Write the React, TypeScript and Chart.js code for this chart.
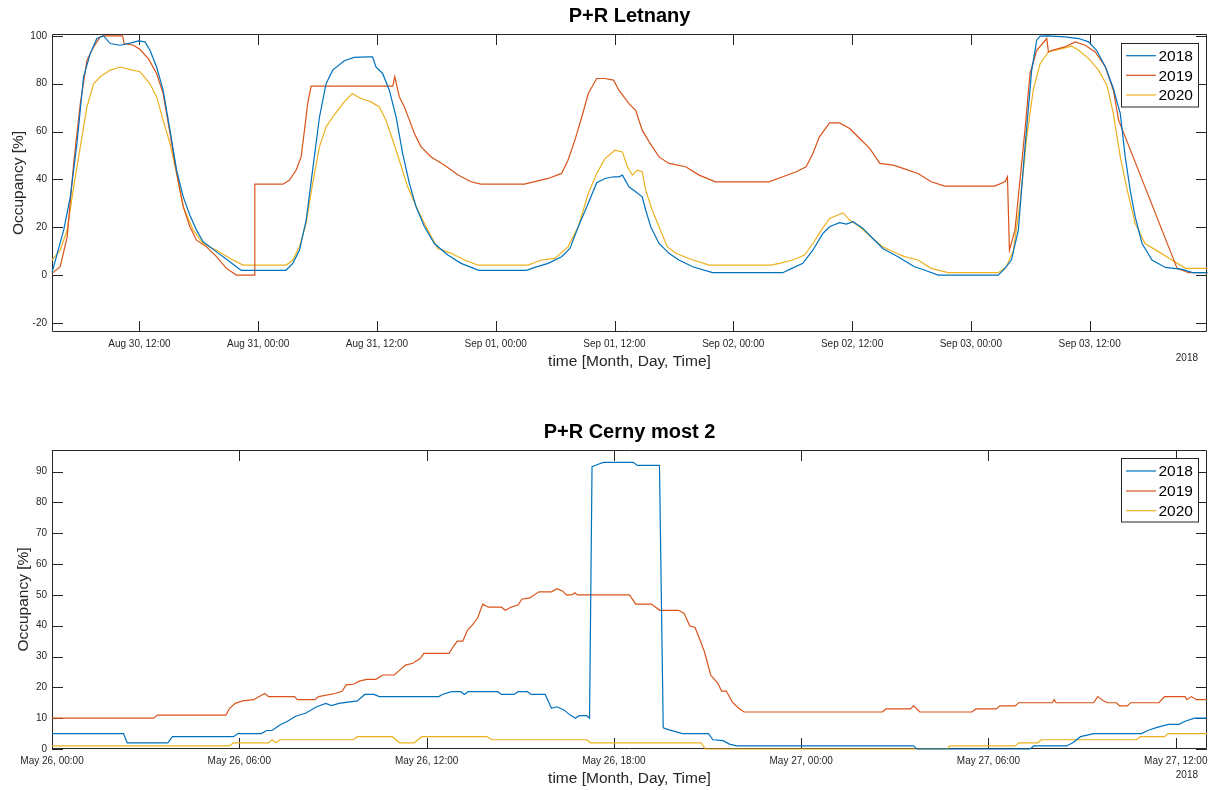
import React, { useEffect, useRef } from "react";
import { Chart, registerables } from "chart.js";

Chart.register(...registerables);

const FONT = '"Liberation Sans", Arial, Helvetica, sans-serif';
const SERIES_NAMES = ["2018", "2019", "2020"];
const SERIES_COLORS = ["#0072BD", "#D95319", "#EDB120"];

// ---------- P+R Letnany (x = hours since Aug 30, 00:00) ----------
const letnanyTickHours = [12, 24, 36, 48, 60, 72, 84, 96, 108];
const letnanyTickLabels = [
  "Aug 30, 12:00", "Aug 31, 00:00", "Aug 31, 12:00", "Sep 01, 00:00", "Sep 01, 12:00",
  "Sep 02, 00:00", "Sep 02, 12:00", "Sep 03, 00:00", "Sep 03, 12:00",
];
const letnanyYTicks = [-20, 0, 20, 40, 60, 80, 100];

const letnanyHours2018 = [
  3.17, 4.35, 5.02, 5.69, 6.36, 7.03, 7.7, 8.38, 9.05, 10.05, 11.06, 11.9, 12.57, 13.07, 13.74, 14.4,
  15.09, 15.76, 16.43, 17.1, 17.77, 18.44, 19.79, 21.13, 22.13, 22.3, 26.8, 27.5, 28.17, 28.85, 29.5,
  30.19, 30.86, 31.53, 32.7, 33.7, 35.05, 35.56, 35.9, 36.57, 37.25, 37.93, 38.6, 39.28, 39.95, 40.8,
  41.8, 43.16, 44.5, 46.03, 46.3, 51.1, 51.95, 53.3, 54.65, 55.5, 56.34, 57.35, 58.2, 59.04, 59.9,
  60.45, 60.8, 61.46, 62.14, 62.8, 63.15, 63.66, 64.5, 65.5, 66.5, 67.9, 69.9, 77, 77.7, 79.03, 80.04,
  81.05, 81.73, 82.74, 83.42, 84.1, 85.1, 86.1, 87.1, 88.5, 89.3, 90.3, 91.3, 92.7, 98.77, 99.45,
  100.1, 100.8, 101.47, 102.15, 102.66, 103, 103.8, 105.5, 106.9, 107.9, 108.7, 109.6, 110.4, 111.1,
  111.6, 112.1, 112.6, 113.3, 114.3, 115.66, 117.35, 118.4, 119.9,
];
const letnany2018 = [
  1, 18.8, 32.7, 55, 82.9, 92.6, 98.9, 100, 96.8, 96.1, 97, 97.9, 97.5, 94, 87, 77.3,
  60.6, 43.9, 32.7, 25, 18.8, 13.9, 9.7, 5.6, 2.4, 2, 2, 4.9, 10.4, 23, 43.9,
  66, 80, 85.7, 89.6, 91, 91.2, 91.2, 87, 84.3, 77.3, 66.2, 50.8, 38.3, 28.6, 20.2,
  13.2, 8.4, 4.9, 2.4, 2, 2, 3.2, 4.9, 7.7, 11.1, 20.2, 30, 38.6, 40.4, 41.1,
  41.1, 41.8, 36.9, 34.8, 32.7, 27.2, 20.2, 13.2, 9.1, 6.3, 3.5, 1, 1, 2.4, 4.9, 10.4,
  17.4, 20.2, 21.9, 21.3, 22.3, 19.5, 15.3, 11.1, 8, 6, 3.5, 2.1, 0, 0, 2.8,
  6.3, 18.8, 53.6, 85.7, 98.2, 99.9, 100, 99.6, 98.9, 97.5, 94, 87, 78, 67.5,
  49.4, 35.5, 24.4, 13.2, 6.3, 3.2, 2.4, 1, 1,
];

const letnanyHours2019 = [
  3.17, 4, 4.7, 5.36, 6.03, 6.7, 7.37, 8.04, 8.38, 10.3, 10.46, 11.4, 12.07, 12.9, 13.74, 14.4,
  15.09, 15.76, 16.43, 17.1, 17.77, 18.78, 19.79, 20.8, 21.8, 23.64, 23.66, 26.5, 27.17, 27.84,
  28.34, 28.68, 29.0, 29.35, 37.6, 37.8, 38.26, 38.77, 39.28, 39.78, 40.46, 41.47, 42.8, 44.2, 45.5,
  46.5, 50.9, 53.3, 54.65, 55.3, 56, 56.7, 57.35, 58.2, 59, 59.9, 60.45, 61.46, 62.14, 62.8, 63.5,
  64.5, 65.5, 67.2, 68.55, 70.2, 75.6, 77, 78.35, 79.36, 80.04, 80.7, 81.73, 82.74, 83.76, 84.77,
  85.8, 86.8, 88.15, 89.16, 90.66, 92, 93.36, 98.4, 99.45, 99.7, 99.9, 100.46, 100.97, 101.47,
  101.98, 102.66, 103.67, 103.84, 104.2, 105.5, 106.54, 107.55, 108.57, 109.6, 110.4, 110.93,
  116.84, 118, 119.9,
];
const letnany2019 = [
  0.7, 3.5, 16, 46.7, 71.7, 89.8, 95.4, 99.6, 100, 100, 96.8, 96.1, 94.3, 90.5, 84.3, 75.9,
  59.2, 42.5, 28.6, 20.2, 14.6, 11.8, 7.7, 2.8, 0, 0, 38, 38, 39.7, 43.9,
  49.4, 60.6, 71.7, 79, 79, 83, 74.5, 70.3, 64.8, 59.2, 53.6, 49.4, 46, 41.8, 39,
  38, 38, 40.4, 42.5, 48, 56.4, 66.2, 75.9, 82.2, 82.2, 81.5, 77.3, 71.7, 68.9, 60.6, 55.7,
  49.4, 46.7, 45.3, 41.8, 39, 39, 41.1, 43.2, 45.3, 50.8, 57.8, 63.6, 63.6, 61.3, 57.1,
  52.9, 46.7, 46, 44.6, 42.5, 39, 37.2, 37.2, 39, 41.1, 10.4, 18.8, 39.7, 60.6,
  84.3, 94, 98.9, 93.3, 94, 95.4, 97.5, 96.1, 93.3, 87, 77.3, 64.8,
  2.8, 1, 1,
];

const letnanyHours2020 = [
  3.17, 4, 4.7, 5.36, 6.03, 6.7, 7.37, 8.04, 9.05, 10.05, 11.06, 12.07, 13.07, 13.74, 14.4, 15.09,
  15.76, 16.43, 17.44, 18.44, 19.79, 21.13, 22.47, 26.83, 27.5, 28.17, 28.85, 29.5, 30.19, 30.86,
  31.6, 32.7, 33.5, 34.38, 35.4, 36.24, 36.9, 37.6, 38.26, 39.1, 40.12, 41.13, 42.15, 43.5, 44.85,
  46.2, 51.27, 52.6, 53.97, 55.3, 56.34, 57.35, 58.2, 59.04, 60.05, 60.8, 61.3, 61.8, 62.3, 62.8,
  63.15, 63.8, 64.5, 65.34, 66.2, 67.9, 69.6, 75.8, 76.66, 78, 79.2, 80.04, 80.9, 81.73, 82.57,
  83.08, 83.76, 84.77, 86.1, 87.1, 88.5, 89.3, 90.66, 92, 93.7, 98.77, 99.6, 100.3, 100.97, 101.65,
  102.3, 103, 103.84, 105.2, 106.2, 106.9, 107.9, 108.9, 109.75, 110.4, 111.1, 111.8, 112.6, 113.6,
  115, 116.3, 117.7, 119.9,
];
const letnany2020 = [
  6.3, 10.4, 18.8, 36.9, 53.6, 70.3, 80, 82.9, 85.7, 87, 85.9, 85, 80, 74.5, 64.8, 55,
  42.5, 28.6, 18.8, 13.2, 10.4, 7, 4.2, 4.2, 6.3, 11.8, 21.6, 38.3, 53.6, 62,
  66.5, 72.4, 75.9, 73.8, 72.4, 70.3, 64.8, 56.4, 48, 36.9, 27.2, 18.8, 11.1, 9.1, 6.3,
  4.2, 4.2, 6.3, 7, 11.8, 20.2, 34.1, 42.5, 48.7, 52.2, 51.5, 45.3, 41.8, 43.9, 43.2,
  35.5, 27.2, 20.2, 11.8, 9.1, 6.3, 4.2, 4.2, 4.9, 6.3, 8.4, 13.2, 18.8, 23.7, 25.1,
  26, 23, 20.2, 15.3, 11.8, 9.1, 7.7, 6.3, 2.8, 1, 1, 3.5, 10.4, 30, 57.8,
  77.3, 88.4, 93.3, 94.7, 95.7, 94, 90.5, 85.7, 79.4, 67.5, 49.4, 35.5, 21.6, 13.2,
  9.7, 6.3, 2.8, 2.8,
];

// ---------- P+R Cerny most 2 (x = hours since May 26, 00:00) ----------
const cernyTickHours = [0, 6, 12, 18, 24, 30, 36];
const cernyTickLabels = [
  "May 26, 00:00", "May 26, 06:00", "May 26, 12:00", "May 26, 18:00",
  "May 27, 00:00", "May 27, 06:00", "May 27, 12:00",
];
const cernyYTicks = [0, 10, 20, 30, 40, 50, 60, 70, 80, 90];

const cernyHours2018 = [
  0, 2.29, 2.41, 3.71, 3.86, 5.81, 5.96, 6.7, 6.88, 7.05, 7.3, 7.53, 7.82, 8.12, 8.48, 8.77, 8.95,
  9.19, 9.78, 10.02, 10.31, 10.49, 12.39, 12.5, 12.8, 13.1, 13.21, 13.33, 14.28, 14.4, 14.8, 14.93,
  15.23, 15.35, 15.8, 16, 16.18, 16.41, 16.6, 16.77, 16.89, 17.13, 17.22, 17.3, 17.48, 17.66, 18.62,
  18.75, 19.46, 19.58, 19.77, 20.2, 21.03, 21.17, 21.5, 21.7, 21.93, 27.6, 27.7, 31.33, 31.45, 32.5,
  32.7, 32.95, 33.37, 34.9, 35.1, 35.4, 35.76, 36.1, 36.3, 36.6, 37,
];
const cerny2018 = [
  5, 5, 2, 2, 4, 4, 5, 5, 6, 6, 7.8, 8.9, 10.7, 11.6, 13.7, 14.8, 14.1,
  14.8, 15.6, 17.7, 17.7, 17, 17, 17.7, 18.6, 18.6, 17.7, 18.6, 18.6, 17.7, 17.7, 18.6,
  18.6, 17.7, 17.7, 13.2, 13.7, 12.6, 11, 10, 10.8, 10.8, 10, 91.6, 92.3, 93, 93,
  92, 92, 6.9, 6.2, 5, 5, 3, 2.7, 1.6, 1, 1, 0, 0, 1, 1,
  2, 4, 5, 5, 6, 7, 8, 8, 9, 10, 10,
];

const cernyHours2019 = [
  0, 3.26, 3.38, 5.57, 5.69, 5.87, 6.1, 6.46, 6.64, 6.82, 6.94, 7.77, 7.86, 8.42, 8.54, 9.07, 9.3,
  9.42, 9.66, 9.84, 10.08, 10.37, 10.6, 10.96, 11.14, 11.32, 11.56, 11.8, 11.91, 12.72, 12.84, 12.98,
  13.16, 13.31, 13.45, 13.63, 13.8, 13.98, 14.4, 14.52, 14.7, 14.93, 15.05, 15.3, 15.6, 16, 16.18,
  16.36, 16.48, 16.65, 16.75, 16.83, 18.5, 18.7, 19.2, 19.47, 20.07, 20.25, 20.43, 20.6, 20.8, 20.9,
  21.1, 21.33, 21.45, 21.6, 21.8, 22, 22.17, 26.6, 26.72, 27.5, 27.6, 27.8, 29.47, 29.6, 30.25,
  30.37, 30.85, 30.97, 32.05, 32.1, 32.17, 33.37, 33.5, 33.67, 33.8, 34.1, 34.2, 34.44, 34.56,
  35.46, 35.64, 36.3, 36.35, 36.5, 36.66, 37,
];
const cerny2019 = [
  10, 10, 11, 11, 13.2, 14.8, 15.6, 16, 17, 18, 17, 17, 16, 16, 17, 18, 18.8,
  20.8, 21, 22, 22.6, 22.6, 24, 24, 25.6, 27.2, 27.8, 29.4, 31, 31, 33, 35,
  35, 38.6, 40, 42.4, 47, 46, 46, 45, 46, 46.7, 48.6, 49, 51, 51, 52,
  51.2, 50, 50, 50.7, 50, 50, 47, 47, 45, 45, 44, 40, 39.4, 34.3, 31.6,
  24, 21.3, 18.8, 18.8, 15.1, 13.2, 12, 12, 13, 13, 14, 12, 12, 13, 13,
  14, 14, 15, 15, 16, 15, 15, 17, 15.7, 15, 15, 14, 14, 15,
  15, 17, 17, 16, 17, 16, 16,
];

const cernyHours2020 = [
  0, 5.69, 5.81, 6.94, 7.05, 7.17, 7.3, 9.66, 9.78, 10.9, 11.14, 11.6, 11.85, 13.93, 14.1, 17.13,
  17.25, 20.8, 20.93, 28.7, 28.75, 30.85, 30.97, 31.57, 31.69, 34.74, 34.86, 35.64, 35.76, 37,
];
const cerny2020 = [
  1, 1, 2, 2, 3, 2, 3, 3, 4, 4, 2, 2, 4, 4, 3, 3,
  2, 2, 0, 0, 1, 1, 2, 2, 3, 3, 4, 4, 5, 5,
];

type PanelCfg = {
  title: string;
  hours: number[][];
  values: number[][];
  xMin: number;
  xMax: number;
  yMin: number;
  yMax: number;
  xTicks: number[];
  xLabels: string[];
  yTicks: number[];
  padTop: number;
  xAxisHeight: number;
  titleY: number;
  xTitleY: number;
  yTitleX: number;
  yearY: number;
  legendTop: number;
  legendRows: number[];
};

const CANVAS_W = 1215;
const CANVAS_H = 395;

function makeDecor(cfg: PanelCfg) {
  return {
    id: "matlabDecor",
    beforeDatasetsDraw(chart: any) {
      const { ctx, chartArea, scales } = chart;
      const L = Math.round(chartArea.left);
      const R = Math.round(chartArea.right);
      const T = Math.round(chartArea.top);
      const B = Math.round(chartArea.bottom);
      ctx.save();
      ctx.strokeStyle = "#262626";
      ctx.lineWidth = 1;
      ctx.beginPath();
      ctx.rect(L + 0.5, T + 0.5, R - L - 1, B - T - 1);
      ctx.stroke();
      const TL = 11;
      ctx.beginPath();
      for (const t of scales.x.ticks) {
        const px = Math.round(scales.x.getPixelForValue(t.value)) + 0.5;
        ctx.moveTo(px, B);
        ctx.lineTo(px, B - TL);
        ctx.moveTo(px, T);
        ctx.lineTo(px, T + TL);
      }
      for (const t of scales.y.ticks) {
        const py = Math.round(scales.y.getPixelForValue(t.value)) + 0.5;
        ctx.moveTo(L, py);
        ctx.lineTo(L + TL, py);
        ctx.moveTo(R, py);
        ctx.lineTo(R - TL, py);
      }
      ctx.stroke();
      ctx.restore();
    },
    afterDraw(chart: any) {
      const { ctx, chartArea } = chart;
      const L = Math.round(chartArea.left);
      const R = Math.round(chartArea.right);
      const T = Math.round(chartArea.top);
      const B = Math.round(chartArea.bottom);
      ctx.save();
      ctx.fillStyle = "#000";
      ctx.textAlign = "center";
      ctx.textBaseline = "middle";
      ctx.font = `bold 20px ${FONT}`;
      ctx.fillText(cfg.title, (L + R) / 2, cfg.titleY);

      ctx.fillStyle = "#262626";
      ctx.font = `15.5px ${FONT}`;
      ctx.fillText("time [Month, Day, Time]", (L + R) / 2, cfg.xTitleY);
      ctx.save();
      ctx.translate(cfg.yTitleX, (T + B) / 2);
      ctx.rotate(-Math.PI / 2);
      ctx.fillText("Occupancy [%]", 0, 0);
      ctx.restore();

      ctx.font = `10px ${FONT}`;
      ctx.textAlign = "right";
      ctx.fillText("2018", 1198, cfg.yearY);

      const lx = 1121;
      const lw = 77;
      const lh = 63.5;
      ctx.fillStyle = "#fff";
      ctx.fillRect(lx, cfg.legendTop, lw, lh);
      ctx.strokeStyle = "#262626";
      ctx.lineWidth = 1;
      ctx.strokeRect(lx + 0.5, Math.round(cfg.legendTop) + 0.5, lw, lh);
      ctx.font = `15.5px ${FONT}`;
      ctx.textAlign = "left";
      SERIES_NAMES.forEach((name, i) => {
        const ry = cfg.legendRows[i];
        ctx.strokeStyle = SERIES_COLORS[i];
        ctx.lineWidth = 1.2;
        ctx.beginPath();
        ctx.moveTo(1126, ry);
        ctx.lineTo(1156, ry);
        ctx.stroke();
        ctx.fillStyle = "#000";
        ctx.fillText(name, 1158.5, ry + 1);
      });
      ctx.restore();
    },
  };
}

function Panel({ cfg }: { cfg: PanelCfg }) {
  const ref = useRef<HTMLCanvasElement | null>(null);
  useEffect(() => {
    if (!ref.current) return;
    const datasets = SERIES_NAMES.map((name, s) => ({
      label: name,
      data: cfg.hours[s].map((h, i) => ({ x: h, y: cfg.values[s][i] })),
      borderColor: SERIES_COLORS[s],
      backgroundColor: SERIES_COLORS[s],
      borderWidth: 1.2,
      pointRadius: 0,
      tension: 0,
      fill: false,
      clip: 2,
    }));
    const chart = new Chart(ref.current, {
      type: "line",
      data: { datasets },
      options: {
        responsive: false,
        animation: false,
        devicePixelRatio: 1,
        layout: { padding: { left: 0, right: CANVAS_W - 1207, top: cfg.padTop, bottom: 0 } },
        plugins: {
          legend: { display: false },
          title: { display: false },
          tooltip: { enabled: false },
        },
        scales: {
          x: {
            type: "linear",
            min: cfg.xMin,
            max: cfg.xMax,
            bounds: "data",
            grid: { display: false, drawTicks: false },
            border: { display: false },
            afterBuildTicks: (s: any) => {
              s.ticks = cfg.xTicks.map((v) => ({ value: v }));
            },
            afterFit: (s: any) => {
              s.height = cfg.xAxisHeight;
              s.paddingLeft = 0;
              s.paddingRight = 0;
            },
            ticks: {
              autoSkip: false,
              maxRotation: 0,
              minRotation: 0,
              padding: 6,
              color: "#262626",
              font: { family: FONT, size: 10 },
              callback: (_v: any, i: number) => cfg.xLabels[i],
            },
          },
          y: {
            type: "linear",
            min: cfg.yMin,
            max: cfg.yMax,
            bounds: "data",
            grid: { display: false, drawTicks: false },
            border: { display: false },
            afterBuildTicks: (s: any) => {
              s.ticks = cfg.yTicks.map((v) => ({ value: v }));
            },
            afterFit: (s: any) => {
              s.width = 52;
              s.paddingTop = 0;
              s.paddingBottom = 0;
            },
            ticks: {
              padding: 5,
              color: "#262626",
              font: { family: FONT, size: 10 },
              callback: (v: any) => String(v),
            },
          },
        },
      },
      plugins: [makeDecor(cfg)],
    } as any);
    return () => chart.destroy();
  }, [cfg]);
  return (
    <canvas
      ref={ref}
      width={CANVAS_W}
      height={CANVAS_H}
      style={{ display: "block", width: CANVAS_W, height: CANVAS_H }}
    />
  );
}

const letnanyCfg: PanelCfg = {
  title: "P+R Letnany",
  hours: [letnanyHours2018, letnanyHours2019, letnanyHours2020],
  values: [letnany2018, letnany2019, letnany2020],
  xMin: 3.17,
  xMax: 119.86,
  yMin: -23.8,
  yMax: 100.8,
  xTicks: letnanyTickHours,
  xLabels: letnanyTickLabels,
  yTicks: letnanyYTicks,
  padTop: 34,
  xAxisHeight: CANVAS_H - 332,
  titleY: 16.7,
  xTitleY: 361.7,
  yTitleX: 18.5,
  yearY: 358.3,
  legendTop: 42.5,
  legendRows: [55.7, 75.3, 95],
};

const cernyCfg: PanelCfg = {
  title: "P+R Cerny most 2",
  hours: [cernyHours2018, cernyHours2019, cernyHours2020],
  values: [cerny2018, cerny2019, cerny2020],
  xMin: 0,
  xMax: 37,
  yMin: 0,
  yMax: 97,
  xTicks: cernyTickHours,
  xLabels: cernyTickLabels,
  yTicks: cernyYTicks,
  padTop: 55,
  xAxisHeight: CANVAS_H - 354,
  titleY: 37.3,
  xTitleY: 383.3,
  yTitleX: 24,
  yearY: 380,
  legendTop: 63.3,
  legendRows: [76, 96, 115.7],
};

export default function App() {
  return (
    <div style={{ position: "absolute", left: 0, top: 0, width: CANVAS_W, height: 790, background: "#fff" }}>
      <Panel cfg={letnanyCfg} />
      <Panel cfg={cernyCfg} />
    </div>
  );
}
